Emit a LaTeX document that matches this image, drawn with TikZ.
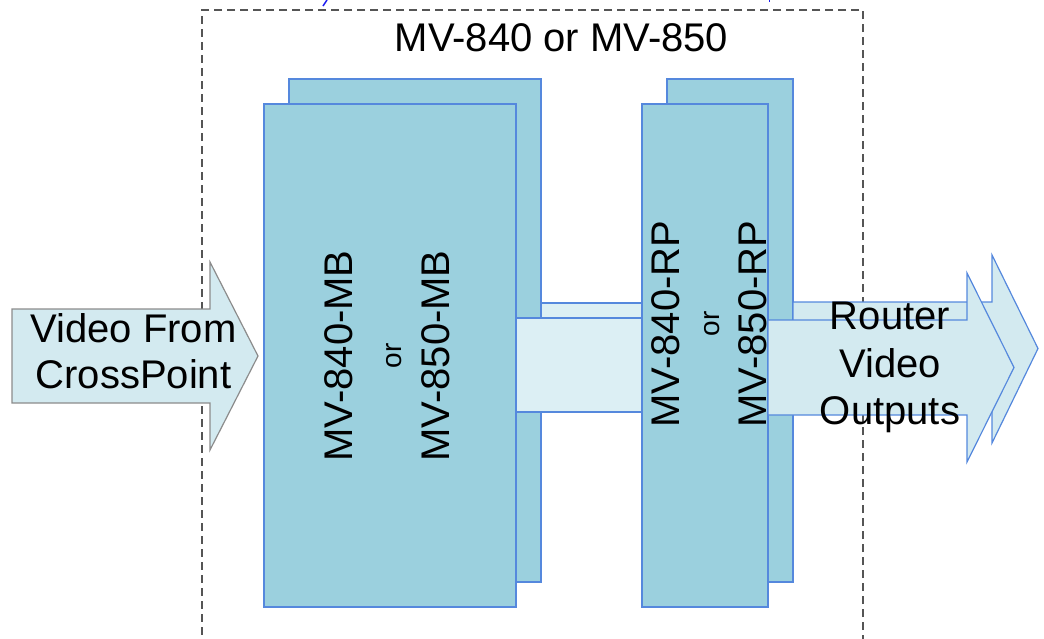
\documentclass[tikz,border=0pt]{standalone}
\usepackage{fontspec}
\setmainfont{Liberation Sans}
\definecolor{boxfill}{HTML}{9BD0DE}
\definecolor{boxline}{HTML}{5588DD}
\definecolor{linkfill}{HTML}{DCEFF4}
\definecolor{arrowfill}{HTML}{D3EAF0}
\definecolor{framegray}{HTML}{555555}
\definecolor{arrowgray}{HTML}{8C8C8C}
\definecolor{markblue}{HTML}{1A1AF0}
\begin{document}
\begin{tikzpicture}[x=1pt,y=-1pt,
  card/.style={draw=boxline, fill=boxfill, line width=2pt, anchor=north west, inner sep=0pt, outer sep=0pt},
  link/.style={draw=boxline, fill=linkfill, line width=1.2pt, anchor=north west, inner sep=0pt, outer sep=0pt},
  outarrow/.style={draw=boxline, fill=arrowfill, line width=1.2pt, line join=miter},
  inarrow/.style={draw=arrowgray, fill=arrowfill, line width=1.2pt, line join=miter},
  label/.style={align=center, inner sep=0pt, outer sep=0pt, text=black},
]
\useasboundingbox (0,0) rectangle (1044,638);
% outer dashed frame
\node[draw=framegray, dash pattern=on 8pt off 5pt, line width=2.2pt, anchor=north west,
      minimum width=661pt, minimum height=700pt, inner sep=0pt, outer sep=0pt] (frame) at (202,10) {};
% stray marks at the top edge
\draw[markblue, line width=1.5pt] (327,0) -- (323,6);
\draw[markblue, line width=1pt] (769,0) -- (769,2);
% back layer
\node[card, minimum width=252pt, minimum height=503pt] (mbback) at (289,79) {};
\node[card, minimum width=126pt, minimum height=503pt] (rpback) at (667,79) {};
\node[link, minimum width=126pt, minimum height=92pt] (linkback) at (541,303) {};
\draw[outarrow] (793,302) -- (992,302) -- (992,255) -- (1038,348.5) -- (992,443) -- (992,395) -- (793,395) -- cycle;
% front layer
\node[card, minimum width=252pt, minimum height=503pt] (mbfront) at (264,104) {};
\node[link, minimum width=126pt, minimum height=94pt] (linkfront) at (516,318) {};
\node[card, minimum width=126pt, minimum height=503pt] (rpfront) at (642,104) {};
\draw[outarrow] (768,320) -- (967,320) -- (967,273) -- (1014,367.5) -- (967,462) -- (967,415) -- (768,415) -- cycle;
% input arrow
\draw[inarrow] (12,309) -- (210,309) -- (210,262) -- (258,356) -- (210,450) -- (210,403) -- (12,403) -- cycle;
% labels
\node[label, font=\fontsize{40}{46}\selectfont] (title) at (561.5,37.7) {MV-840 or MV-850};
\node[label, font=\fontsize{40}{48.5}\selectfont, rotate=90] (mbtext) at (387.5,356)
  {MV-840-MB\\{\fontsize{28}{48.5}\selectfont or}\\MV-850-MB};
\node[label, font=\fontsize{40}{44}\selectfont, rotate=90] (rptext) at (709.5,324)
  {MV-840-RP\\[-4pt]{\fontsize{28}{44}\selectfont or}\\[3pt]MV-850-RP};
\node[label, font=\fontsize{40}{46}\selectfont] (intext) at (133.5,350.7) {Video From\\CrossPoint};
\node[label, font=\fontsize{40}{47.5}\selectfont] (outtext) at (890,367.4) {Router\\Video\\Outputs};
\end{tikzpicture}
\end{document}
